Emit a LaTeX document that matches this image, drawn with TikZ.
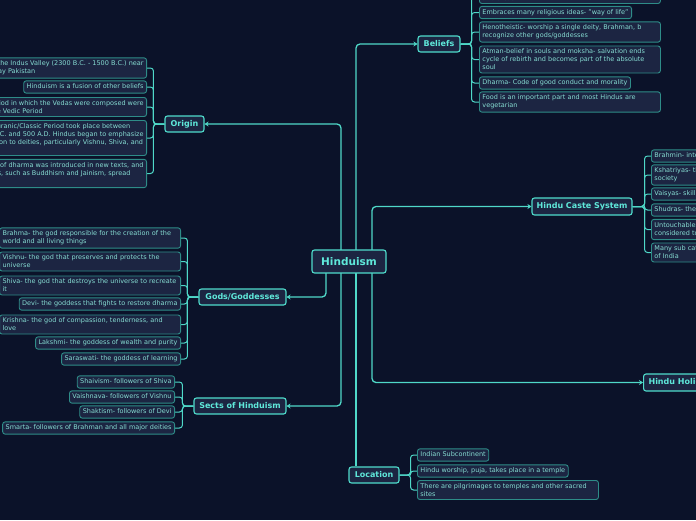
\documentclass[tikz,border=0pt]{standalone}
\usepackage{fontspec}
\setmainfont{DejaVu Sans}
\usetikzlibrary{arrows.meta}
\definecolor{bgc}{HTML}{0B1229}
\definecolor{boxfill}{HTML}{1C2542}
\definecolor{leafborder}{HTML}{2E8C88}
\definecolor{leaftext}{HTML}{86DCD2}
\definecolor{mainborder}{HTML}{4FDCCC}
\definecolor{maintext}{HTML}{5FE8DA}
\definecolor{edgec}{HTML}{4FD8C8}
\pgfdeclarelayer{bglayer}
\pgfdeclarelayer{edges}
\pgfsetlayers{bglayer,edges,main}
\tikzset{
 leaf/.style={draw=leafborder, fill=boxfill, text=leaftext, rounded corners=2.5pt, line width=0.9pt, font=\fontsize{6.5}{8}\selectfont, inner xsep=3pt, inner ysep=3pt, align=left},
 leafone/.style={leaf, text height=4.8pt, text depth=1.5pt},
 leafw/.style={leaf, text width=#1},
 topic/.style={draw=mainborder, fill=boxfill, text=maintext, rounded corners=2.5pt, line width=1.1pt, font=\bfseries\fontsize{8}{9.5}\selectfont, inner sep=0pt},
 mainedge/.style={draw=edgec, line width=1.3pt, rounded corners=4pt, -{Stealth[length=4pt,width=5pt]}},
 plainedge/.style={draw=edgec, line width=1.3pt},
 leafedge/.style={draw=edgec, line width=1pt, rounded corners=3pt},
}
\begin{document}
\begin{tikzpicture}[x=1pt,y=-1pt]
\begin{pgfonlayer}{bglayer}
\fill[bgc] (0,0) rectangle (696,520);
\end{pgfonlayer}
\useasboundingbox (0,0) rectangle (696,520);
\clip (0,0) rectangle (696,520);

% central and topic nodes
\node[topic, minimum width=74pt, minimum height=23pt, font=\bfseries\fontsize{10.5}{12}\selectfont] (hub) at (349,261.5) {Hinduism};
\node[topic, minimum width=39pt, minimum height=16pt] (origin) at (184.5,124) {Origin};
\node[topic, minimum width=87pt, minimum height=16pt] (gods) at (242.5,297) {Gods/Goddesses};
\node[topic, minimum width=92pt, minimum height=16pt] (sects) at (240,406) {Sects of Hinduism};
\node[topic, minimum width=42pt, minimum height=16pt] (beliefs) at (439,44) {Beliefs};
\node[topic, minimum width=100pt, minimum height=17pt] (caste) at (582,206.5) {Hindu Caste System};
\node[topic, minimum width=50pt, minimum height=16pt] (location) at (374,475) {Location};
\node[topic, minimum height=17pt, inner xsep=5pt, anchor=west] (holi) at (643,382.5) {Hindu Holidays};

\coordinate (hA) at (326,262);
\coordinate (hB) at (341,262);
\coordinate (hC) at (356,262);
\coordinate (hD) at (372,262);

% Origin children
\node[leaf, anchor=east] (o1) at (147,68) {Began in the Indus Valley (2300 B.C. - 1500 B.C.) near\\present-day Pakistan};
\node[leafone, anchor=east] (o2) at (147,87) {Hinduism is a fusion of other beliefs};
\node[leaf, anchor=east] (o3) at (147,107) {The time period in which the Vedas were composed were\\known as the Vedic Period};
\node[leaf, anchor=east] (o4) at (147,138) {The Puranic/Classic Period took place between\\500 B.C. and 500 A.D. Hindus began to emphasize\\devotion to deities, particularly Vishnu, Shiva, and\\Devi};
\node[leaf, anchor=east] (o5) at (147,173.5) {The concept of dharma was introduced in new texts, and\\new religions, such as Buddhism and Jainism, spread\\rapidly};

% Gods children
\node[leafw=175pt, anchor=east] (g1) at (181,238) {Brahma- the god responsible for the creation of the\\world and all living things};
\node[leafw=175pt, anchor=east] (g2) at (181,261.5) {Vishnu- the god that preserves and protects the\\universe};
\node[leafw=175pt, anchor=east] (g3) at (181,285.5) {Shiva- the god that destroys the universe to recreate\\it};
\node[leafone, anchor=east] (g4) at (181,304) {Devi- the goddess that fights to restore dharma};
\node[leafw=175pt, anchor=east] (g5) at (181,324.5) {Krishna- the god of compassion, tenderness, and\\love};
\node[leafone, anchor=east] (g6) at (181,343) {Lakshmi- the goddess of wealth and purity};
\node[leafone, anchor=east] (g7) at (181,359) {Saraswati- the goddess of learning};

% Sects children
\node[leafone, anchor=east] (s1) at (175,382) {Shaivism- followers of Shiva};
\node[leafone, anchor=east] (s2) at (175,397) {Vaishnava- followers of Vishnu};
\node[leafone, anchor=east] (s3) at (175,412) {Shaktism- followers of Devi};
\node[leafone, anchor=east] (s4) at (175,428) {Smarta- followers of Brahman and all major deities};

% Beliefs children
\node[leafw=175pt, anchor=west] (b0) at (479,-6) {Hinduism is practiced by people in many countries\\and areas};
\node[leafone, anchor=west] (b1) at (479,12.5) {Embraces many religious ideas- "way of life"};
\node[leafw=175pt, anchor=west] (b2) at (479,32) {Henotheistic- worship a single deity, Brahman, b\\recognize other gods/goddesses};
\node[leafw=175pt, anchor=west] (b3) at (479,59.5) {Atman-belief in souls and moksha- salvation ends\\cycle of rebirth and becomes part of the absolute\\soul};
\node[leafone, anchor=west] (b4) at (479,83) {Dharma- Code of good conduct and morality};
\node[leafw=175pt, anchor=west] (b5) at (479,102) {Food is an important part and most Hindus are\\vegetarian};

% Caste children
\node[leafone, anchor=west] (c1) at (651,156) {Brahmin- intellectuals and priests};
\node[leaf, anchor=west] (c2) at (651,175) {Kshatriyas- the warriors and rulers of\\society};
\node[leafone, anchor=west] (c3) at (651,194) {Vaisyas- skilled traders and merchants};
\node[leafone, anchor=west] (c4) at (651,210) {Shudras- the unskilled workers};
\node[leaf, anchor=west] (c5) at (651,229.5) {Untouchables- outcasts, they were\\considered to be impure};
\node[leaf, anchor=west] (c6) at (651,252.5) {Many sub categories exist in the regions\\of India};

% Location children
\node[leafone, anchor=west] (l1) at (417,455) {Indian Subcontinent};
\node[leafone, anchor=west] (l2) at (417,471) {Hindu worship, puja, takes place in a temple};
\node[leafw=175pt, anchor=west] (l3) at (417,490) {There are pilgrimages to temples and other sacred\\sites};

\begin{pgfonlayer}{edges}
% main connectors
\draw[mainedge] (hB) |- (origin.east);
\draw[mainedge] (hC) |- (beliefs.west);
\draw[mainedge] (hD) |- (caste.west);
\draw[mainedge] (hA) |- (gods.east);
\draw[mainedge] (hB) |- (sects.east);
\draw[mainedge] (hD) |- (holi.west);
\draw[plainedge] (hC) -- (hC |- location.north);
% leaf connectors
\foreach \c in {o1,o2,o3,o4,o5} \draw[leafedge] (origin.west) -- ++(-11,0) |- (\c.east);
\foreach \c in {g1,g2,g3,g4,g5,g6,g7} \draw[leafedge] (gods.west) -- ++(-11,0) |- (\c.east);
\foreach \c in {s1,s2,s3,s4} \draw[leafedge] (sects.west) -- ++(-11,0) |- (\c.east);
\foreach \c in {b0,b1,b2,b3,b4,b5} \draw[leafedge] (beliefs.east) -- ++(11,0) |- (\c.west);
\foreach \c in {c1,c2,c3,c4,c5,c6} \draw[leafedge] (caste.east) -- ++(12,0) |- (\c.west);
\foreach \c in {l1,l2,l3} \draw[leafedge] (location.east) -- ++(11,0) |- (\c.west);
\end{pgfonlayer}
\end{tikzpicture}
\end{document}
